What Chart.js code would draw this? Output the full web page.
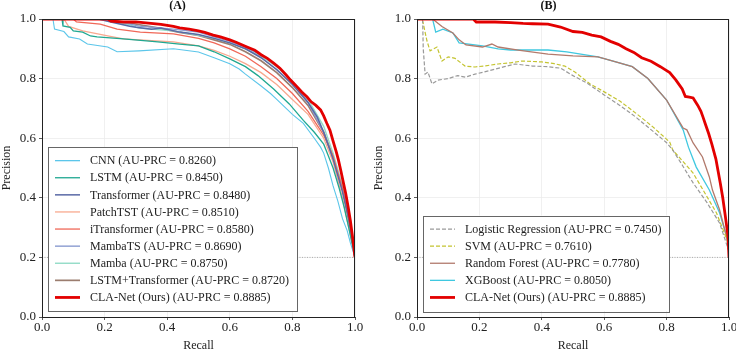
<!DOCTYPE html>
<html>
<head>
<meta charset="utf-8">
<script src="https://cdn.jsdelivr.net/npm/chart.js@4/dist/chart.umd.min.js"></script>
<style>
body{margin:0;width:736px;height:353px;overflow:hidden;background:#fff;position:relative;}
canvas{position:absolute;top:0;}
#chartA{left:0;}
#chartB{left:368px;}
</style>
</head>
<body>
<canvas id="chartA" width="368" height="353"></canvas>
<canvas id="chartB" width="380" height="353"></canvas>
<script>
// ---- panel A data (recall / precision) ----
let cnnR = [0,0.035,0.04,0.07,0.085,0.12,0.145,0.21,0.24,0.31,0.42,0.5,0.55,0.6,0.63,0.65,0.7,0.73,0.75,0.8,0.835,0.87,0.89,0.9,0.915,0.93,0.945,0.96,0.975,0.985,1.0];
let cnnP = [1,1,0.966,0.958,0.94,0.933,0.916,0.906,0.89,0.893,0.9,0.889,0.87,0.85,0.832,0.815,0.775,0.75,0.73,0.68,0.65,0.6,0.57,0.55,0.5,0.44,0.39,0.33,0.29,0.25,0.2];
let lstmR = [0,0.064,0.067,0.09,0.1,0.13,0.155,0.176,0.26,0.37,0.44,0.5,0.55,0.6,0.65,0.69,0.74,0.79,0.835,0.87,0.9,0.915,0.93,0.95,0.965,0.98,1.0];
let lstmP = [1,1,0.977,0.972,0.96,0.956,0.943,0.94,0.933,0.923,0.916,0.91,0.89,0.866,0.84,0.81,0.765,0.715,0.66,0.62,0.58,0.54,0.5,0.43,0.37,0.3,0.2];
let transR = [0,0.18,0.22,0.28,0.3,0.35,0.38,0.44,0.5,0.55,0.6,0.65,0.7,0.75,0.8,0.85,0.88,0.9,0.93,0.96,0.98,1.0];
let transP = [1,1,0.99,0.976,0.972,0.966,0.97,0.956,0.948,0.935,0.92,0.9,0.87,0.83,0.78,0.72,0.67,0.62,0.53,0.42,0.33,0.2];
let patchR = [0,0.07,0.085,0.13,0.21,0.26,0.31,0.42,0.5,0.55,0.6,0.65,0.7,0.75,0.8,0.85,0.9,0.93,0.96,0.98,1.0];
let patchP = [1,1,0.975,0.96,0.943,0.933,0.93,0.923,0.91,0.895,0.875,0.85,0.82,0.78,0.73,0.68,0.6,0.52,0.4,0.3,0.2];
let itransR = [0,0.1,0.11,0.186,0.24,0.314,0.42,0.5,0.55,0.6,0.65,0.7,0.75,0.8,0.85,0.9,0.93,0.96,0.98,1.0];
let itransP = [1,1,0.99,0.983,0.966,0.956,0.95,0.935,0.92,0.9,0.875,0.84,0.8,0.75,0.69,0.61,0.54,0.43,0.32,0.2];
let mambatsR = [0,0.21,0.31,0.42,0.5,0.55,0.6,0.65,0.7,0.75,0.8,0.85,0.9,0.93,0.96,0.98,1.0];
let mambatsP = [1,1,0.976,0.966,0.956,0.94,0.925,0.905,0.88,0.845,0.79,0.72,0.62,0.53,0.43,0.34,0.2];
let mambaR = [0,0.18,0.28,0.31,0.42,0.5,0.55,0.6,0.65,0.7,0.75,0.8,0.85,0.9,0.93,0.96,0.98,1.0];
let mambaP = [1,1,0.98,0.97,0.96,0.945,0.935,0.92,0.9,0.875,0.84,0.79,0.73,0.64,0.55,0.44,0.33,0.2];
let lstmtR = [0,0.19,0.26,0.37,0.44,0.5,0.55,0.6,0.65,0.7,0.75,0.8,0.85,0.9,0.93,0.96,0.98,1.0];
let lstmtP = [1,1,0.99,0.97,0.955,0.945,0.93,0.915,0.89,0.86,0.82,0.77,0.71,0.62,0.54,0.43,0.33,0.2];
let claAR = [0,0.21,0.22,0.26,0.3,0.34,0.38,0.42,0.44,0.47,0.5,0.52,0.547,0.57,0.6,0.62,0.655,0.68,0.7,0.72,0.74,0.76,0.78,0.794,0.81,0.83,0.847,0.86,0.875,0.89,0.9,0.91,0.92,0.93,0.94,0.947,0.955,0.963,0.97,0.978,0.985,0.992,1.0];
let claAP = [1,1,0.993,0.99,0.99,0.986,0.982,0.975,0.97,0.966,0.96,0.955,0.946,0.94,0.93,0.922,0.906,0.895,0.88,0.868,0.852,0.835,0.812,0.795,0.778,0.755,0.738,0.722,0.71,0.695,0.675,0.65,0.627,0.59,0.555,0.527,0.49,0.45,0.416,0.37,0.325,0.27,0.2];

// ---- panel B data ----
let lrR = [0,0.018,0.02,0.026,0.035,0.048,0.067,0.1,0.13,0.155,0.186,0.23,0.28,0.315,0.37,0.42,0.46,0.5,0.545,0.6,0.65,0.7,0.76,0.8,0.82,0.85,0.885,0.93,0.97,1.0];
let lrP = [1,1,0.9,0.815,0.822,0.782,0.795,0.8,0.81,0.805,0.815,0.826,0.84,0.849,0.842,0.84,0.835,0.81,0.785,0.745,0.71,0.672,0.62,0.585,0.56,0.51,0.45,0.383,0.315,0.22];
let svmR = [0,0.015,0.019,0.032,0.042,0.064,0.08,0.1,0.122,0.154,0.186,0.22,0.26,0.3,0.337,0.4,0.44,0.474,0.506,0.555,0.596,0.65,0.705,0.756,0.81,0.82,0.885,0.917,0.96,0.994,1.0];
let svmP = [1,1,0.99,0.926,0.893,0.906,0.859,0.873,0.868,0.842,0.839,0.843,0.849,0.853,0.859,0.856,0.85,0.842,0.822,0.782,0.758,0.725,0.681,0.638,0.587,0.56,0.483,0.426,0.349,0.258,0.22];
let rfR = [0,0.05,0.08,0.115,0.135,0.157,0.21,0.24,0.26,0.33,0.42,0.5,0.58,0.64,0.69,0.74,0.8,0.853,0.865,0.885,0.915,0.937,0.947,0.97,0.995,1.0];
let rfP = [1,1,0.975,0.953,0.93,0.913,0.906,0.916,0.906,0.895,0.882,0.876,0.873,0.855,0.84,0.8,0.728,0.634,0.628,0.584,0.537,0.47,0.426,0.359,0.258,0.22];
let xgbR = [0,0.05,0.06,0.083,0.115,0.135,0.21,0.26,0.3,0.42,0.48,0.58,0.64,0.69,0.74,0.8,0.853,0.87,0.895,0.937,0.97,0.993,1.0];
let xgbP = [1,1,0.956,0.966,0.953,0.92,0.91,0.9,0.896,0.896,0.89,0.873,0.855,0.84,0.8,0.728,0.628,0.57,0.503,0.426,0.349,0.268,0.215];
let claBR = [0,0.18,0.19,0.25,0.3,0.34,0.37,0.42,0.44,0.46,0.5,0.53,0.56,0.59,0.62,0.645,0.67,0.695,0.72,0.75,0.78,0.795,0.81,0.83,0.85,0.86,0.873,0.885,0.9,0.91,0.917,0.925,0.935,0.945,0.958,0.965,0.972,0.98,0.988,0.997,1.0];
let claBP = [1,1,0.99,0.99,0.988,0.985,0.984,0.983,0.978,0.973,0.958,0.955,0.946,0.94,0.925,0.915,0.9,0.888,0.87,0.858,0.84,0.83,0.82,0.795,0.765,0.74,0.738,0.735,0.71,0.69,0.67,0.645,0.615,0.58,0.53,0.49,0.45,0.4,0.34,0.27,0.2];

let baseR = [0,1];
let baseP = [0.2,0.2];
let tickVals = [0,0.2,0.4,0.6,0.8,1.0];

let serif = "'Liberation Serif', 'Times New Roman', serif";

function pts(r,p){
return r.map((v,i) => ({x:v, y:p[i]}));
}

function line(label,r,p,color,width,dash,order){
return {
label:label,
data:pts(r,p),
borderColor:color,
borderWidth:width,
borderDash:dash || [],
pointRadius:0,
tension:0,
fill:false,
order:order
};
}

function baseline(){
return {
label:"",
data:pts(baseR,baseP),
borderColor:"#9a9a9a",
borderWidth:0.8,
borderDash:[1,1.5],
pointRadius:0,
order:5
};
}

// frame, custom legend box
const panelPlugin = {
id:"panel",
afterDatasetsDraw(chart){
let ctx = chart.ctx;
let a = chart.chartArea;
ctx.save();
ctx.strokeStyle = "#222";
ctx.lineWidth = 1;
ctx.strokeRect(a.left+0.5,a.top+0.5,a.right-a.left-1,a.bottom-a.top);

let items = chart.data.datasets.filter(d => d.label);
ctx.font = "12px " + serif;
let maxW = 0;
items.forEach(d => { maxW = Math.max(maxW, ctx.measureText(d.label).width); });
let rowH = 17.1;
let boxW = 42 + maxW + 8;
let boxH = items.length*rowH + 10;
let bx = a.left + 6;
let by = a.bottom - 6 - boxH;
ctx.fillStyle = "#fff";
ctx.fillRect(bx,by,boxW,boxH);
ctx.strokeStyle = "#666";
ctx.lineWidth = 1;
ctx.strokeRect(Math.round(bx)+0.5,Math.round(by)+0.5,Math.round(boxW),Math.round(boxH));
items.forEach((d,i) => {
let yy = by + 5 + rowH/2 + i*rowH;
ctx.beginPath();
ctx.strokeStyle = d.borderColor;
ctx.lineWidth = Math.max(d.borderWidth,1.3);
ctx.setLineDash(d.borderDash || []);
ctx.moveTo(bx+7,yy);
ctx.lineTo(bx+32,yy);
ctx.stroke();
ctx.setLineDash([]);
ctx.fillStyle = "#222";
ctx.textBaseline = "middle";
ctx.fillText(d.label,bx+42,yy+0.5);
});
ctx.restore();
}
};

function makeChart(id,title,datasets,yWidth,rightPad,yTitlePad){
return new Chart(document.getElementById(id),{
type:"line",
data:{datasets:datasets},
options:{
responsive:false,
animation:false,
devicePixelRatio:1,
layout:{padding:{top:0,right:rightPad,left:0,bottom:0}},
plugins:{
legend:{display:false},
tooltip:{enabled:false},
title:{
display:true,
text:title,
color:"#111",
font:{family:serif,size:12,weight:"bold",lineHeight:1.0},
padding:{top:0,bottom:7}
}
},
scales:{
x:{
type:"linear",
min:0,max:1,
afterBuildTicks(s){ s.ticks = tickVals.map(v => ({value:v})); },
afterFit(s){ s.height = 36; },
ticks:{
callback:v => v.toFixed(1),
font:{family:serif,size:13},
color:"#222",
padding:0,
maxRotation:0
},
grid:{color:"#ececec",lineWidth:0.8,tickLength:3,tickColor:"#333"},
border:{color:"#222",width:1},
title:{display:true,text:"Recall",font:{family:serif,size:12},color:"#222",padding:{top:0,bottom:0}}
},
y:{
type:"linear",
min:0,max:1,
afterBuildTicks(s){ s.ticks = tickVals.map(v => ({value:v})); },
afterFit(s){ s.width = yWidth; },
ticks:{
callback:v => v.toFixed(1),
font:{family:serif,size:13},
color:"#222",
padding:3
},
grid:{color:"#ececec",lineWidth:0.8,tickLength:3,tickColor:"#333"},
border:{color:"#222",width:1},
title:{display:true,text:"Precision",font:{family:serif,size:12},color:"#222",padding:{top:yTitlePad,bottom:0}}
}
}
},
plugins:[panelPlugin]
});
}

let dsA = [
line("CNN (AU-PRC = 0.8260)",cnnR,cnnP,"#5cc6ea",1.1,null,1),
line("LSTM (AU-PRC = 0.8450)",lstmR,lstmP,"#1fa891",1.3,null,1),
line("Transformer (AU-PRC = 0.8480)",transR,transP,"#5a69a6",1.5,null,1),
line("PatchTST (AU-PRC = 0.8510)",patchR,patchP,"#f8a98f",1.3,null,1),
line("iTransformer (AU-PRC = 0.8580)",itransR,itransP,"#f06858",1.3,null,1),
line("MambaTS (AU-PRC = 0.8690)",mambatsR,mambatsP,"#8a9bd0",1.4,null,1),
line("Mamba (AU-PRC = 0.8750)",mambaR,mambaP,"#92dcc7",1.4,null,1),
line("LSTM+Transformer (AU-PRC = 0.8720)",lstmtR,lstmtP,"#9b7d6f",1.7,null,1),
line("CLA-Net (Ours) (AU-PRC = 0.8885)",claAR,claAP,"#e30000",2.8,null,0),
baseline()
];

let dsB = [
line("Logistic Regression (AU-PRC = 0.7450)",lrR,lrP,"#9a9a9a",1.2,[4,2],1),
line("SVM (AU-PRC = 0.7610)",svmR,svmP,"#c4c431",1.2,[4,2],1),
line("Random Forest (AU-PRC = 0.7780)",rfR,rfP,"#b27a6c",1.3,null,1),
line("XGBoost (AU-PRC = 0.8050)",xgbR,xgbP,"#3fc8e0",1.3,null,1),
line("CLA-Net (Ours) (AU-PRC = 0.8885)",claBR,claBP,"#e30000",2.8,null,0),
baseline()
];

makeChart("chartA","(A)",dsA,42,13,0);
makeChart("chartB","(B)",dsB,49,19,4);
</script>
</body>
</html>
